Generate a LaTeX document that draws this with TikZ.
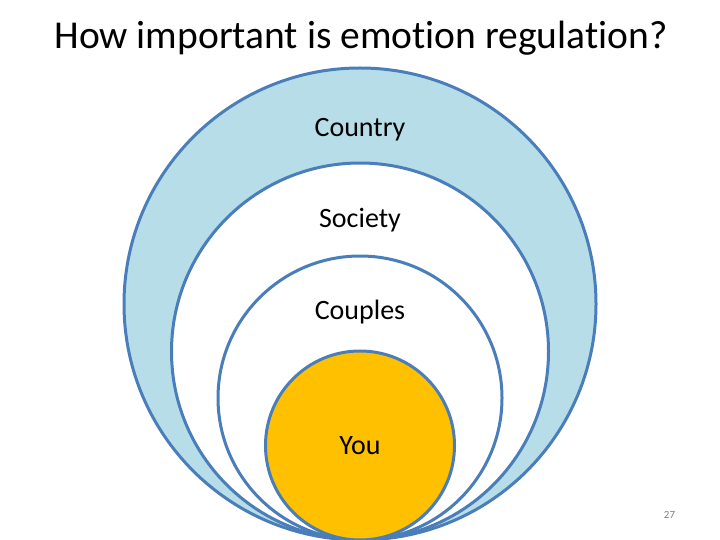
\documentclass[tikz,border=0pt]{standalone}
\usepackage{fontspec}
\setmainfont{Carlito}[Ligatures=NoCommon]
\usepackage{tikz}
\usetikzlibrary{positioning}
\definecolor{ringline}{HTML}{4A7EBB}
\definecolor{countryblue}{HTML}{B7DEE8}
\definecolor{youyellow}{HTML}{FFC000}
\tikzset{
  ring/.style      = {draw=ringline, line width=3pt, circle, inner sep=0pt, outer sep=0pt},
  ringtext/.style  = {anchor=base, font=\fontsize{28}{32}\selectfont, inner sep=0pt},
  titletext/.style = {anchor=base, font=\fontsize{39.5}{46}\selectfont, inner sep=0pt},
  pagenum/.style   = {anchor=base, font=\fontsize{11}{13}\selectfont, text=gray, inner sep=0pt}
}

\begin{document}
\begin{tikzpicture}[x=1pt, y=-1pt]

    \useasboundingbox (0,0) rectangle (720,540);

    % ── Title ─────────────────────────────────────────────────────────────
    \node[titletext] (title) at (361, 49) {How important is emotion regulation?};

    % ── Nested circles, all touching at the bottom ───────────────────────
    \node[ring, fill=countryblue, minimum size=472pt] (country) at (360, 304) {};
    \node[ring, fill=white,       minimum size=377pt] (society) at (360, 351.5) {};
    \node[ring, fill=white,       minimum size=284pt] (couples) at (360, 398) {};
    \node[ring, fill=youyellow,   minimum size=189pt] (you)     at (360, 445.5) {};

    % ── Labels ───────────────────────────────────────────────────────────
    \node[ringtext] (countrylbl) at (360, 137) {Country};
    \node[ringtext] (societylbl) at (360, 228) {Society};
    \node[ringtext] (coupleslbl) at (360, 319) {Couples};
    \node[ringtext] (youlbl)     at (360, 454) {You};

    % ── Slide number ─────────────────────────────────────────────────────
    \node[pagenum] (slideno) at (669.5, 518) {27};

\end{tikzpicture}
\end{document}
